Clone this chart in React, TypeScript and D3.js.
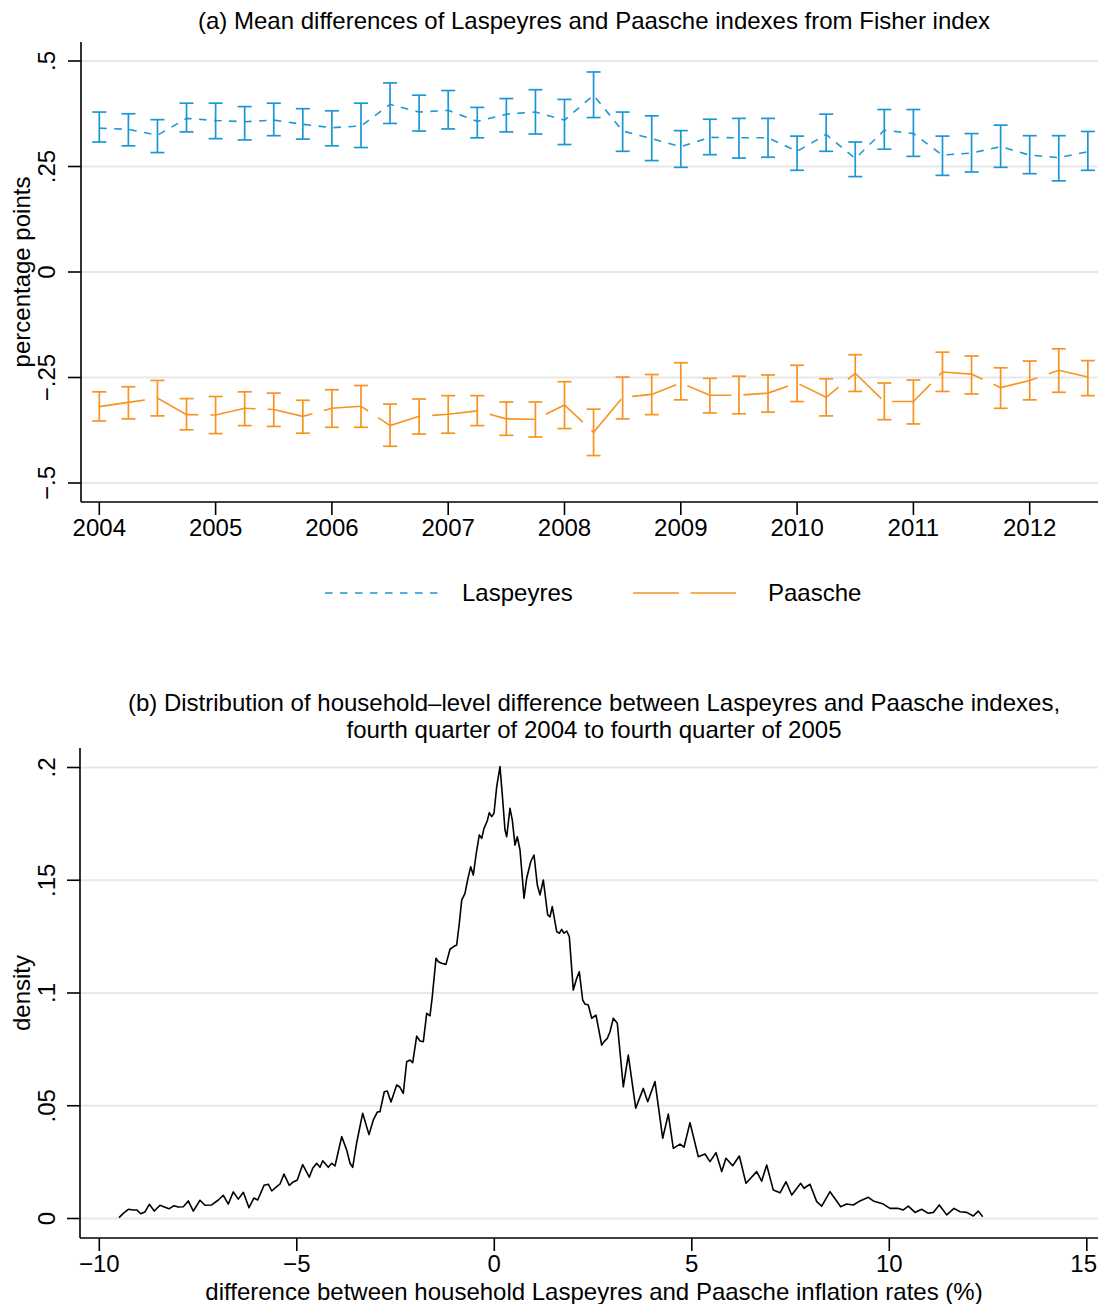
import React from "react";
import * as d3 from "d3";

const quarters = [
  "2004q1","2004q2","2004q3","2004q4","2005q1","2005q2","2005q3","2005q4",
  "2006q1","2006q2","2006q3","2006q4","2007q1","2007q2","2007q3","2007q4",
  "2008q1","2008q2","2008q3","2008q4","2009q1","2009q2","2009q3","2009q4",
  "2010q1","2010q2","2010q3","2010q4","2011q1","2011q2","2011q3","2011q4",
  "2012q1","2012q2","2012q3"
];

const laspMean = [0.341,0.338,0.324,0.364,0.359,0.356,0.360,0.350,0.342,0.346,0.397,0.379,0.383,0.357,0.374,0.379,0.360,0.419,0.334,0.316,0.297,0.319,0.318,0.318,0.286,0.326,0.269,0.336,0.328,0.277,0.282,0.297,0.277,0.271,0.285];
const laspLo = [0.308,0.299,0.283,0.332,0.316,0.313,0.323,0.315,0.299,0.295,0.352,0.334,0.339,0.318,0.332,0.327,0.302,0.366,0.286,0.264,0.248,0.278,0.270,0.272,0.241,0.286,0.226,0.291,0.274,0.229,0.237,0.248,0.233,0.216,0.241];
const laspHi = [0.379,0.375,0.361,0.400,0.400,0.392,0.400,0.387,0.382,0.400,0.448,0.419,0.430,0.390,0.411,0.432,0.409,0.474,0.379,0.370,0.335,0.362,0.364,0.364,0.322,0.374,0.308,0.385,0.385,0.322,0.328,0.348,0.323,0.323,0.333];

const paasMean = [-0.319,-0.309,-0.299,-0.338,-0.339,-0.323,-0.326,-0.342,-0.323,-0.318,-0.364,-0.342,-0.337,-0.329,-0.348,-0.349,-0.315,-0.380,-0.297,-0.290,-0.263,-0.292,-0.292,-0.287,-0.263,-0.297,-0.240,-0.307,-0.307,-0.237,-0.242,-0.274,-0.257,-0.233,-0.249];
const paasHi = [-0.284,-0.272,-0.257,-0.300,-0.295,-0.284,-0.287,-0.304,-0.279,-0.269,-0.313,-0.301,-0.293,-0.293,-0.308,-0.308,-0.260,-0.325,-0.249,-0.243,-0.215,-0.252,-0.247,-0.244,-0.221,-0.253,-0.196,-0.263,-0.256,-0.190,-0.199,-0.227,-0.211,-0.182,-0.210];
const paasLo = [-0.353,-0.348,-0.341,-0.374,-0.383,-0.364,-0.366,-0.382,-0.368,-0.368,-0.413,-0.384,-0.382,-0.364,-0.387,-0.391,-0.371,-0.435,-0.348,-0.338,-0.303,-0.334,-0.336,-0.332,-0.307,-0.341,-0.283,-0.350,-0.360,-0.283,-0.289,-0.323,-0.303,-0.285,-0.293];

const yearTicks = [2004, 2005, 2006, 2007, 2008, 2009, 2010, 2011, 2012];
const topYTicks = [0.5, 0.25, 0, -0.25, -0.5];
const topYLabels = [".5", ".25", "0", "\u2212.25", "\u2212.5"];

const densX = [-9.501,-9.392,-9.266,-9.139,-9.053,-8.952,-8.843,-8.734,-8.608,-8.463,-8.337,-8.235,-8.109,-8.0,-7.873,-7.747,-7.620,-7.451,-7.324,-7.154,-6.987,-6.861,-6.734,-6.608,-6.481,-6.354,-6.210,-6.084,-5.990,-5.830,-5.722,-5.635,-5.509,-5.425,-5.324,-5.190,-5.089,-4.987,-4.851,-4.684,-4.597,-4.496,-4.413,-4.344,-4.203,-4.116,-4.033,-3.863,-3.737,-3.653,-3.585,-3.484,-3.332,-3.172,-3.063,-2.962,-2.894,-2.785,-2.709,-2.615,-2.471,-2.387,-2.304,-2.218,-2.134,-2.066,-1.965,-1.881,-1.797,-1.711,-1.628,-1.570,-1.476,-1.418,-1.332,-1.223,-1.122,-1.038,-0.952,-0.886,-0.825,-0.742,-0.673,-0.597,-0.532,-0.463,-0.380,-0.319,-0.261,-0.177,-0.127,-0.066,-0.008,0.061,0.144,0.213,0.271,0.314,0.397,0.456,0.524,0.582,0.651,0.752,0.820,0.922,1.005,1.089,1.157,1.241,1.352,1.410,1.468,1.580,1.646,1.706,1.765,1.833,1.899,2.0,2.086,2.152,2.238,2.296,2.380,2.466,2.575,2.719,2.777,2.861,2.929,3.013,3.114,3.266,3.392,3.580,3.772,3.884,4.068,4.263,4.405,4.532,4.701,4.803,4.954,5.165,5.334,5.461,5.613,5.757,5.866,6.035,6.203,6.372,6.643,6.770,6.896,7.063,7.233,7.385,7.529,7.757,7.841,7.992,8.162,8.289,8.499,8.770,8.922,9.089,9.258,9.468,9.595,9.848,10.018,10.213,10.354,10.481,10.651,10.820,10.987,11.114,11.266,11.453,11.638,11.790,11.959,12.127,12.253,12.365];
const densY = [0.0004,0.0023,0.0041,0.0038,0.0038,0.0021,0.0029,0.0063,0.0033,0.0059,0.0050,0.0043,0.0057,0.0051,0.0052,0.0078,0.0033,0.0081,0.0059,0.0060,0.0082,0.0103,0.0064,0.0118,0.0086,0.0116,0.0048,0.0091,0.0082,0.0147,0.0152,0.0122,0.0141,0.0153,0.0197,0.0147,0.0162,0.0171,0.0239,0.0183,0.0223,0.0245,0.0227,0.0256,0.0227,0.0245,0.0233,0.0363,0.0304,0.0245,0.0227,0.0336,0.0467,0.0372,0.0437,0.0472,0.0474,0.0562,0.0565,0.0517,0.0592,0.0582,0.0555,0.0695,0.0703,0.0691,0.0809,0.0787,0.0784,0.0910,0.0899,0.0984,0.1154,0.1139,0.1132,0.1127,0.1194,0.1205,0.1213,0.1309,0.1412,0.1442,0.1504,0.1560,0.1523,0.1612,0.1701,0.1686,0.1730,0.1764,0.1800,0.1782,0.1797,0.1915,0.2004,0.1856,0.1723,0.1693,0.1819,0.1767,0.1656,0.1693,0.1634,0.1420,0.1509,0.1582,0.1612,0.1479,0.1435,0.1501,0.1346,0.1338,0.1383,0.1272,0.1265,0.1282,0.1265,0.1275,0.1250,0.1013,0.1065,0.1094,0.0969,0.0951,0.0947,0.0888,0.0902,0.0769,0.0784,0.0799,0.0828,0.0888,0.0866,0.0584,0.0725,0.0489,0.0577,0.0518,0.0607,0.0356,0.0463,0.0311,0.0330,0.0316,0.0425,0.0274,0.0286,0.0252,0.0292,0.0208,0.0267,0.0234,0.0277,0.0156,0.0208,0.0166,0.0237,0.0126,0.0114,0.0163,0.0104,0.0156,0.0134,0.0152,0.0075,0.0055,0.0119,0.0052,0.0064,0.0060,0.0078,0.0094,0.0078,0.0064,0.0045,0.0045,0.0038,0.0055,0.0027,0.0041,0.0023,0.0027,0.0060,0.0016,0.0045,0.0030,0.0027,0.0011,0.0033,0.0008];

const botXTicks = [-10, -5, 0, 5, 10, 15];
const botXLabels = ["\u221210", "\u22125", "0", "5", "10", "15"];
const botYTicks = [0, 0.05, 0.1, 0.15, 0.2];
const botYLabels = ["0", ".05", ".1", ".15", ".2"];

const BLUE = "#1A97D5";
const ORANGE = "#F7931E";
const GRID = "#E8E8E8";
const FONT = "'Liberation Sans', Arial, Helvetica, sans-serif";
const FS = 24;

function qToNum(q: string) {
  const y = +q.slice(0, 4);
  const k = +q.slice(5);
  return y + (k - 1) / 4;
}

export default function App() {
  const W = 1098, H = 1304;
  // top panel
  const tLeft = 81, tRight = 1098, tTop = 42, tBottom = 502;
  const xT = d3.scaleLinear().domain([2004, 2012]).range([99.3, 1029.7]);
  const yT = d3.scaleLinear().domain([-0.5, 0.5]).range([483, 61]);
  const xs = quarters.map(qToNum);

  const lineT = d3.line<[number, number]>().x(d => xT(d[0])).y(d => yT(d[1]));
  const laspPts = xs.map((x, i) => [x, laspMean[i]] as [number, number]);
  const paasPts = xs.map((x, i) => [x, paasMean[i]] as [number, number]);

  // bottom panel
  const bLeft = 80, bRight = 1098, bTop = 748, bBottom = 1238;
  const xB = d3.scaleLinear().domain([-10, 15]).range([99.3, 1086.8]);
  const yB = d3.scaleLinear().domain([0, 0.2]).range([1218.5, 767.5]);
  const densPts = densX.map((x, i) => [x, densY[i]] as [number, number]);
  const lineB = d3.line<[number, number]>().x(d => xB(d[0])).y(d => yB(d[1]));

  const cap = 7;
  const errBars = (lo: number[], hi: number[], color: string, key: string) =>
    xs.map((x, i) => {
      const cx = xT(x);
      const y1 = yT(hi[i]);
      const y2 = yT(lo[i]);
      return (
        <g key={key + i} stroke={color} strokeWidth={1.7} fill="none">
          <line x1={cx} x2={cx} y1={y1} y2={y2} />
          <line x1={cx - cap} x2={cx + cap} y1={y1} y2={y1} />
          <line x1={cx - cap} x2={cx + cap} y1={y2} y2={y2} />
        </g>
      );
    });

  return (
    <svg
      width={W}
      height={H}
      viewBox={`0 0 ${W} ${H}`}
      style={{ position: "absolute", left: 0, top: 0, background: "#fff", display: "block" }}
      fontFamily={FONT}
    >
      <rect x={0} y={0} width={W} height={H} fill="#fff" />
      {/* ===== Top panel ===== */}
      <text x={594} y={29} fontSize={FS} textAnchor="middle" fill="#000">
        (a) Mean differences of Laspeyres and Paasche indexes from Fisher index
      </text>
      {topYTicks.map((t, i) => (
        <line key={"tg" + i} x1={tLeft} x2={tRight} y1={yT(t)} y2={yT(t)} stroke={GRID} strokeWidth={2} />
      ))}
      {errBars(laspLo, laspHi, BLUE, "lb")}
      {errBars(paasLo, paasHi, ORANGE, "pb")}
      <path d={lineT(laspPts) || ""} fill="none" stroke={BLUE} strokeWidth={1.6} strokeDasharray="7.5 7.5" />
      <path d={lineT(paasPts) || ""} fill="none" stroke={ORANGE} strokeWidth={1.6} strokeDasharray="46 12" />
      {/* axes */}
      <line x1={tLeft} x2={tLeft} y1={tTop} y2={tBottom} stroke="#000" strokeWidth={1.6} />
      <line x1={tLeft} x2={tRight} y1={tBottom} y2={tBottom} stroke="#000" strokeWidth={1.6} />
      {topYTicks.map((t, i) => (
        <g key={"ty" + i}>
          <line x1={tLeft - 13} x2={tLeft} y1={yT(t)} y2={yT(t)} stroke="#000" strokeWidth={1.6} />
          <text transform={`translate(55,${yT(t)}) rotate(-90)`} fontSize={FS} textAnchor="middle" fill="#000">
            {topYLabels[i]}
          </text>
        </g>
      ))}
      {yearTicks.map((t, i) => (
        <g key={"tx" + i}>
          <line x1={xT(t)} x2={xT(t)} y1={tBottom} y2={tBottom + 13} stroke="#000" strokeWidth={1.6} />
          <text x={xT(t)} y={536} fontSize={FS} textAnchor="middle" fill="#000">{t}</text>
        </g>
      ))}
      <text transform={`translate(30,272) rotate(-90)`} fontSize={FS} textAnchor="middle" fill="#000">
        percentage points
      </text>
      {/* legend */}
      <line x1={325} x2={438} y1={593} y2={593} stroke={BLUE} strokeWidth={1.6} strokeDasharray="7.5 7.5" />
      <text x={462} y={601} fontSize={FS} fill="#000">Laspeyres</text>
      <line x1={633} x2={736} y1={593} y2={593} stroke={ORANGE} strokeWidth={1.6} strokeDasharray="46 11.5" />
      <text x={768} y={601} fontSize={FS} fill="#000">Paasche</text>

      {/* ===== Bottom panel ===== */}
      <text x={594} y={711} fontSize={FS} textAnchor="middle" fill="#000">
        (b) Distribution of household{"\u2013"}level difference between Laspeyres and Paasche indexes,
      </text>
      <text x={594} y={738} fontSize={FS} textAnchor="middle" fill="#000">
        fourth quarter of 2004 to fourth quarter of 2005
      </text>
      {botYTicks.map((t, i) => (
        <line key={"bg" + i} x1={bLeft} x2={bRight} y1={yB(t)} y2={yB(t)} stroke={GRID} strokeWidth={2} />
      ))}
      <path d={lineB(densPts) || ""} fill="none" stroke="#000" strokeWidth={1.6} strokeLinejoin="round" />
      <line x1={bLeft} x2={bLeft} y1={bTop} y2={bBottom} stroke="#000" strokeWidth={1.6} />
      <line x1={bLeft} x2={bRight} y1={bBottom} y2={bBottom} stroke="#000" strokeWidth={1.6} />
      {botYTicks.map((t, i) => (
        <g key={"by" + i}>
          <line x1={bLeft - 13} x2={bLeft} y1={yB(t)} y2={yB(t)} stroke="#000" strokeWidth={1.6} />
          <text transform={`translate(55,${yB(t)}) rotate(-90)`} fontSize={FS} textAnchor="middle" fill="#000">
            {botYLabels[i]}
          </text>
        </g>
      ))}
      {botXTicks.map((t, i) => {
        const last = i === botXTicks.length - 1;
        return (
          <g key={"bx" + i}>
            <line x1={xB(t)} x2={xB(t)} y1={bBottom} y2={bBottom + 13} stroke="#000" strokeWidth={1.6} />
            <text
              x={last ? W - 1 : xB(t)}
              y={1272}
              fontSize={FS}
              textAnchor={last ? "end" : "middle"}
              fill="#000"
            >
              {botXLabels[i]}
            </text>
          </g>
        );
      })}
      <text transform={`translate(30,993) rotate(-90)`} fontSize={FS} textAnchor="middle" fill="#000">
        density
      </text>
      <text x={594} y={1300} fontSize={FS} textAnchor="middle" fill="#000">
        difference between household Laspeyres and Paasche inflation rates (%)
      </text>
    </svg>
  );
}
